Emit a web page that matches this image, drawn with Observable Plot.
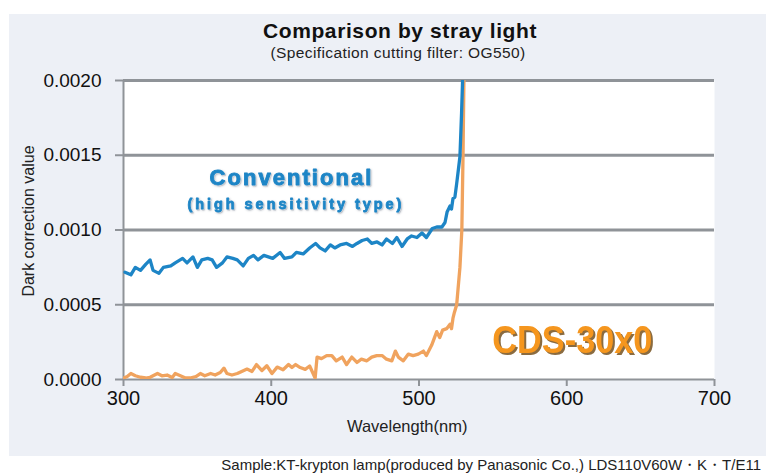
<!DOCTYPE html>
<html>
<head>
<meta charset="utf-8">
<script src="https://cdn.jsdelivr.net/npm/d3@7"></script>
<script src="https://cdn.jsdelivr.net/npm/@observablehq/plot@0.6"></script>
<style>
  body { margin: 0; background: #fff; font-family: "Liberation Sans", Arial, sans-serif; }
  #wrap { position: relative; width: 766px; height: 475px; overflow: hidden; background: #fff; }
  #panel { position: absolute; left: 9px; top: 14px; width: 757px; height: 442px; background: #edf0f6; }
  #title { position: absolute; left: 0; top: 19px; width: 800px; text-align: center; font-weight: bold; font-size: 21px; letter-spacing: 0.6px; color: #111; line-height: 24px; }
  #subtitle { position: absolute; left: 0; top: 44px; width: 796px; text-align: center; font-size: 15.5px; letter-spacing: 0.4px; color: #222; line-height: 18px; }
  #chart { position: absolute; left: 0; top: 0; }
  #caption { position: absolute; right: 5px; top: 456px; font-size: 15px; color: #222; white-space: nowrap; line-height: 18px; }
</style>
</head>
<body>
<div id="wrap">
  <div id="panel"></div>
  <div id="title"></div>
  <div id="subtitle"></div>
  <div id="chart"></div>
  <div id="caption"></div>
</div>
<script>
// ---- Data ----
const titleText = "Comparison by stray light";
const subtitleText = "(Specification cutting filter: OG550)";
const captionText = "Sample:KT-krypton lamp(produced by Panasonic Co.,) LDS110V60W・K・T/E11";
const xLabel = "Wavelength(nm)";
const yLabel = "Dark correction value";
const xTicks = [300, 400, 500, 600, 700];
const yTicks = [0, 0.0005, 0.0010, 0.0015, 0.0020];

// Conventional (high sensitivity type)
const convNm = [301,305,308,311.5,315,318,320,324,327,332,
  335,340,343,347,350,353,357,360,363,367,
  370,374,377,381,384.5,388,391,395,398,401,
  406,409,414,417,421.6,426,430,433,436.5,440,
  443,446.6,451,455,458,461.5,465,468,471.6,475,
  478,482,485,488.5,492,495,498.6,502,505,509,
  512,515.5,517.6,519,521,522,523,524.3,525.5,526.6,
  527.7,528.2,528.8,529.5,530];
const convVal = [.000718,.0007,.00075,.00073,.00077,.0008,.00073,.00071,.00075,.00076,
  .00078,.00081,.00078,.00082,.00075,.0008,.00081,.0008,.00075,.00078,
  .00082,.00081,.0008,.00076,.00081,.00083,.0008,.00083,.00082,.00081,
  .00085,.00081,.00082,.00085,.00084,.00088,.00091,.00088,.00086,.0009,
  .00088,.0009,.00091,.00089,.00091,.00093,.00094,.00091,.00092,.0009,
  .00094,.00091,.00095,.00089,.00094,.00096,.00095,.00098,.00095,.00101,
  .00102,.00102,.00105,.00112,.00116,.00114,.00121,.00122,.00131,.0014,
  .00149,.00162,.00178,.002,.0021];

// CDS-30x0
const cdsNm = [300,302.5,305,308,311.5,315,318,323,326,329.5,
  333,335,338.5,342,345,349,352,355,359,362,
  365.5,368,370,373.4,377,380,383.6,387,390,393.7,
  397,400.5,404,408,411.7,414,416.5,419.6,423,426,
  429.7,431,434,437.5,441,444,448,451,454.5,458,
  461,464.7,468,471.4,475,478,481.6,484,486,489.4,
  492.8,496,499.5,503,505,508.6,512,514,516,518.7,
  521,522,523,524,525.5,527.7,529,529.8,530.4,530.6];
const cdsVal = [.00001,.00002,.00004,.000025,.000015,.00001,.000015,.00004,.000025,.00003,
  .000013,.00004,.000025,.00001,.00001,.00002,.00004,.000025,.00004,.00003,
  .000047,.000076,.00004,.00003,.00004,.000054,.00007,.000054,.0001,.00006,
  .000092,.00004,.000083,.000065,.0001,.00008,.0001,.00008,.000068,.00009,
  .00001,.00015,.00014,.00016,.00016,.000125,.00015,.0001,.00015,.000114,
  .000136,.000125,.00015,.00016,.00016,.000136,.000125,.00019,.00015,.000125,
  .00017,.00016,.00017,.00019,.00016,.00023,.00032,.00028,.00033,.00034,
  .00037,.00034,.00041,.00045,.0005,.00075,.001,.0015,.002,.0021];

const convLabel = "Conventional";
const convSubLabel = "(high sensitivity type)";
const cdsLabel = "CDS-30x0";

// ---- Build ----
const conv = convNm.map((x, i) => ({x, y: convVal[i]}));
const cds = cdsNm.map((x, i) => ({x, y: cdsVal[i]}));

document.getElementById("title").textContent = titleText;
document.getElementById("subtitle").textContent = subtitleText;
document.getElementById("caption").textContent = captionText;

const gridColor = "#8f9398";
const blue = "#1d85c6";
const orange = "#f0a35e";
const font = "Liberation Sans, Arial, sans-serif";

const chart = Plot.plot({
  width: 766,
  height: 475,
  marginLeft: 123,
  marginRight: 52,
  marginTop: 80,
  marginBottom: 96,
  style: {background: "transparent", fontFamily: font, color: "#111", overflow: "visible"},
  x: {domain: [300, 700]},
  y: {domain: [0, 0.002]},
  marks: [
    Plot.frame({fill: "white", stroke: null}),
    Plot.ruleY(yTicks.filter(d => d > 0), {stroke: gridColor, strokeWidth: 3}),
    Plot.ruleY([0], {stroke: gridColor, strokeWidth: 2}),
    Plot.ruleX([300], {stroke: gridColor, strokeWidth: 2}),
    Plot.axisX({ticks: xTicks, tickSize: 7, tickPadding: 4, stroke: gridColor, strokeWidth: 2,
      fontSize: 20, fill: "#111", label: null, tickFormat: d => String(d)}),
    Plot.axisY({ticks: yTicks, tickSize: 8, tickPadding: 14, stroke: gridColor, strokeWidth: 2,
      fontSize: 19, fill: "#111", label: null, tickFormat: d => d.toFixed(4)}),
    Plot.text([xLabel], {x: 492, frameAnchor: "bottom", dy: 52, fontSize: 16.5, fill: "#222", text: d => d}),
    Plot.text([yLabel], {y: 0.00106, frameAnchor: "left", textAnchor: "middle", dx: -95, rotate: -90, fontSize: 16, fill: "#222", text: d => d}),
    Plot.line(cds, {x: "x", y: "y", stroke: orange, strokeWidth: 3.3, clip: true, strokeLinejoin: "round"}),
    Plot.line(conv, {x: "x", y: "y", stroke: blue, strokeWidth: 3.3, clip: true, strokeLinejoin: "round"}),
    Plot.text([convLabel], {x: 413, y: 0.00135, fontSize: 22, fontWeight: "bold", fill: blue, stroke: blue, strokeWidth: 0.9, className: "conv", text: d => d}),
    Plot.text([convSubLabel], {x: 415.7, y: 0.00117, fontSize: 14.5, fontWeight: "bold", fill: blue, stroke: blue, strokeWidth: 0.8, className: "convsub", text: d => d}),
    Plot.text([cdsLabel], {x: 603.8, y: 0.00026, fontSize: 38, fontWeight: "bold", fill: "#f5961e", className: "cds", text: d => d})
  ]
});
document.getElementById("chart").appendChild(chart);

const svg = d3.select(chart);
svg.selectAll(".conv text").attr("textLength", 162).attr("lengthAdjust", "spacing")
  .style("filter", "drop-shadow(0 0 1px #ffffff) drop-shadow(1.5px 1.5px 0 #b7bcc4)");
svg.selectAll(".convsub text").attr("textLength", 214).attr("lengthAdjust", "spacing")
  .style("filter", "drop-shadow(0 0 1px #ffffff) drop-shadow(1.2px 1.2px 0 #b7bcc4)");
svg.selectAll(".cds text").attr("textLength", 160).attr("lengthAdjust", "spacingAndGlyphs")
  .style("filter", "drop-shadow(2px 2px 0 #8a6b40)");
</script>
</body>
</html>
